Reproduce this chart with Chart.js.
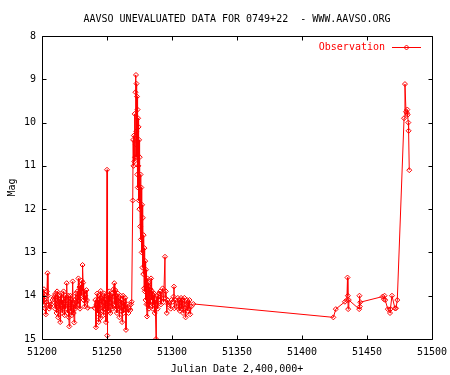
<!DOCTYPE html>
<html>
<head>
<meta charset="utf-8">
<script src="https://cdn.jsdelivr.net/npm/chart.js@4/dist/chart.umd.min.js"></script>
<style>
html,body{margin:0;padding:0;background:#fff;}
#c{display:block;}
</style>
</head>
<body>
<canvas id="c" width="450" height="375"></canvas>
<script>
const titleText = "AAVSO UNEVALUATED DATA FOR 0749+22  - WWW.AAVSO.ORG";
const xTitle = "Julian Date 2,400,000+";
const yTitle = "Mag";
const seriesName = "Observation";
const xTicks = [51200, 51250, 51300, 51350, 51400, 51450, 51500];
const yTicks = [8, 9, 10, 11, 12, 13, 14, 15];

const jd = [
51200.3,51200.8,51201.2,51201.5,51202.0,51202.5,51203.0,51203.4,51203.8,51204.2,51204.6,51205.0,51205.5,51206.2,51207.0,51208.0,51209.0,51209.5,51210.0,51210.4,
51210.8,51211.2,51211.6,51212.0,51212.4,51212.8,51213.2,51213.6,51214.0,51214.3,51214.7,51215.0,51215.4,51215.8,51216.2,51216.6,51217.0,51217.4,51217.8,51218.2,
51218.6,51219.0,51219.4,51219.8,51220.2,51220.6,51221.0,51221.4,51221.8,51222.2,51222.6,51223.0,51223.6,51224.0,51224.4,51224.8,51225.2,51225.6,51226.0,51226.4,
51226.8,51227.2,51227.6,51228.0,51228.4,51228.8,51229.2,51229.6,51230.0,51230.4,51230.8,51231.2,51231.6,51232.0,51232.4,51232.8,51233.2,51233.6,51234.2,51234.6,
51235.2,51240.3,51241.0,51241.5,51242.0,51242.4,51242.8,51243.2,51243.6,51244.0,51244.4,51244.8,51245.2,51245.6,51246.0,51246.4,51246.8,51247.2,51247.6,51248.0,
51248.4,51248.8,51249.2,51249.6,51250.0,51250.2,51250.6,51251.0,51251.4,51251.8,51252.2,51252.6,51253.0,51253.4,51253.8,51254.2,51254.6,51255.0,51255.6,51256.0,
51256.4,51256.8,51257.2,51257.6,51258.0,51258.4,51258.8,51259.2,51259.6,51260.0,51260.4,51260.8,51261.2,51261.6,51262.0,51262.4,51262.8,51263.2,51263.6,51264.0,
51264.6,51265.2,51265.8,51266.5,51267.2,51268.0,51268.5,51269.0,
51269.8,51270.1,51270.4,51270.7,51271.0,51271.3,51271.6,51271.9,51272.1,51272.3,
51272.5,51272.7,51272.9,51273.1,51273.3,51273.5,51273.7,51273.9,51274.1,51274.3,
51274.5,51274.7,51274.9,51275.2,51275.5,51275.8,51276.1,51276.4,51276.7,51277.0,
51277.3,51277.6,51277.9,51278.2,51278.5,51278.8,51279.1,51279.4,51279.7,51280.0,
51280.4,51280.8,51281.1,51281.5,51281.9,51282.3,51282.7,51283.1,51283.5,51283.9,
51284.3,51284.7,51285.1,51285.5,51285.9,51286.3,51286.7,51287.1,51287.7,51288.0,
51288.5,51289.0,51289.5,51290.0,51290.8,51291.5,51292.0,
51292.8,51293.5,51294.6,51294.8,51295.3,
51296.0,51296.6,51297.3,51298.0,51299.0,51299.5,51300.5,51301.2,51301.5,51301.8,51302.5,51303.5,51304.5,51305.0,51305.5,51306.0,51306.5,51307.0,51307.5,51308.0,
51308.5,51309.0,51309.5,51310.0,51310.5,51311.0,51311.5,51312.0,51312.5,51313.0,51313.5,51314.0,51314.8,51316.4,
51424.1,51426.0,51433.0,51434.5,51435.0,51435.3,51435.5,51436.0,51444.0,51444.2,51444.5,51444.8,51462.0,51463.0,51463.5,51464.0,51466.0,51467.7,51468.0,51469.2,
51471.5,51472.3,51473.3,51478.5,51479.2,51480.0,51480.8,51481.0,51481.3,51481.8,51482.0,51482.5
];
const mag = [
14.05,13.95,14.20,13.85,14.10,14.30,14.43,14.15,13.90,13.48,14.00,14.20,14.30,14.25,14.20,14.10,14.05,14.00,14.30,13.95,
14.20,14.40,13.90,14.10,14.50,14.00,14.30,14.10,14.61,14.00,14.20,13.95,14.40,14.10,14.30,13.90,14.20,14.45,14.00,14.30,
14.10,13.71,14.20,14.40,14.00,14.50,14.71,14.20,14.00,14.35,14.10,14.45,13.67,14.20,14.40,14.62,14.10,14.30,13.95,14.25,
14.05,13.90,14.20,13.60,14.10,13.80,14.30,13.75,14.00,13.65,13.90,13.29,13.70,14.10,13.90,14.25,14.00,14.15,13.87,14.10,
14.28,14.28,14.10,14.73,14.20,13.95,14.40,14.10,14.61,14.00,14.30,14.52,13.89,14.20,14.05,14.35,14.00,14.45,14.15,13.95,
14.30,14.10,14.61,14.00,11.09,14.92,14.20,14.00,14.35,13.90,14.15,14.40,14.00,14.25,13.95,14.30,14.10,13.85,13.71,14.20,
13.87,14.30,14.00,14.40,14.10,13.95,14.30,14.05,14.50,14.20,14.00,14.35,14.10,14.61,14.25,14.00,14.40,14.15,14.30,14.05,
14.79,14.30,14.20,14.40,14.30,14.33,14.20,14.14,
11.80,10.40,11.00,10.30,10.90,9.80,10.80,9.30,10.50,8.90,
10.20,9.10,10.80,9.40,11.20,9.70,11.50,9.90,11.00,10.10,
11.80,10.40,12.00,10.80,12.40,11.20,12.70,11.50,13.00,11.90,
13.35,12.20,13.50,12.60,13.83,12.90,13.90,13.20,14.10,13.40,
14.20,14.48,13.60,14.20,13.70,14.30,13.80,14.20,13.85,13.60,
14.10,13.90,14.30,14.00,14.20,13.95,14.40,14.10,15.00,14.20,
14.00,14.30,14.10,13.95,13.90,14.20,14.05,
13.83,14.15,13.10,14.05,13.90,
14.40,14.10,14.20,14.17,14.30,14.10,14.14,14.02,13.79,14.29,14.10,14.25,14.05,14.30,14.10,14.35,14.15,14.05,14.30,14.10,
14.40,14.20,14.05,14.30,14.50,14.20,14.10,14.35,14.15,14.30,14.10,14.43,14.25,14.19,
14.50,14.31,14.14,14.10,13.58,14.00,14.31,14.10,14.31,14.00,14.25,14.15,14.02,14.08,14.00,14.10,14.31,14.40,14.31,14.00,
14.29,14.29,14.10,9.90,9.11,9.75,9.78,9.70,9.82,10.00,10.19,11.10
];

const FONT = "'DejaVu Sans Mono', 'Liberation Mono', monospace";

const framePlugin = {
  id: 'frame',
  afterDraw(chart) {
    const ctx = chart.ctx;
    const a = chart.chartArea;
    const xs = chart.scales.x, ys = chart.scales.y;
    const L = Math.round(a.left) + 0.5, R = Math.round(a.right) + 0.5;
    const T = Math.round(a.top) + 0.5, B = Math.round(a.bottom) + 0.5;
    const tl = 4;
    ctx.save();
    ctx.strokeStyle = '#000';
    ctx.lineWidth = 1;
    ctx.beginPath();
    ctx.rect(L, T, R - L, B - T);
    xTicks.forEach(v => {
      const p = Math.round(xs.getPixelForValue(v)) + 0.5;
      ctx.moveTo(p, B); ctx.lineTo(p, B - tl);
      ctx.moveTo(p, T); ctx.lineTo(p, T + tl);
    });
    yTicks.forEach(v => {
      const p = Math.round(ys.getPixelForValue(v)) + 0.5;
      ctx.moveTo(L, p); ctx.lineTo(L + tl, p);
      ctx.moveTo(R, p); ctx.lineTo(R - tl, p);
    });
    ctx.stroke();
    ctx.fillStyle = '#000';
    ctx.font = '10px ' + FONT;
    ctx.textAlign = 'center';
    ctx.textBaseline = 'middle';
    ctx.fillText(titleText, (a.left + a.right) / 2, 19);
    ctx.fillStyle = '#ff0000';
    ctx.textAlign = 'right';
    ctx.fillText(seriesName, 385, 47);
    ctx.strokeStyle = '#ff0000';
    ctx.beginPath();
    ctx.moveTo(392, 47.5); ctx.lineTo(421, 47.5);
    ctx.stroke();
    ctx.beginPath();
    ctx.moveTo(406.5, 45); ctx.lineTo(409, 47.5); ctx.lineTo(406.5, 50); ctx.lineTo(404, 47.5); ctx.closePath();
    ctx.stroke();
    ctx.restore();
  }
};

new Chart(document.getElementById('c'), {
  type: 'line',
  data: {
    datasets: [{
      label: seriesName,
      data: jd.map((x, i) => ({x: x, y: mag[i]})),
      borderColor: '#ff0000',
      borderWidth: 1,
      backgroundColor: 'rgba(0,0,0,0)',
      pointStyle: 'rectRot',
      pointRadius: 2.5,
      pointBorderColor: '#ff0000',
      pointBackgroundColor: 'rgba(0,0,0,0)',
      pointBorderWidth: 1,
      tension: 0,
      fill: false
    }]
  },
  options: {
    responsive: false,
    devicePixelRatio: 1,
    animation: false,
    events: [],
    layout: { padding: { top: 36, right: 18, left: 0, bottom: 0 } },
    plugins: { legend: { display: false }, title: { display: false }, tooltip: { enabled: false } },
    scales: {
      x: {
        type: 'linear', min: 51200, max: 51500,
        afterBuildTicks: s => { s.ticks = xTicks.map(v => ({value: v})); },
        afterFit: s => { s.height = 36; s.paddingLeft = 0; s.paddingRight = 0; },
        grid: { display: false, drawTicks: false },
        border: { display: false },
        ticks: { color: '#000', font: { family: FONT, size: 10 }, padding: 7, maxRotation: 0, autoSkip: false, callback: v => String(v) },
        title: { display: true, text: xTitle, color: '#000', font: { family: FONT, size: 10 }, padding: { top: 0, bottom: 0 } }
      },
      y: {
        type: 'linear', min: 8, max: 15, reverse: true,
        afterBuildTicks: s => { s.ticks = yTicks.map(v => ({value: v})); },
        afterFit: s => { s.width = 42; s.paddingTop = 0; s.paddingBottom = 0; },
        grid: { display: false, drawTicks: false },
        border: { display: false },
        ticks: { color: '#000', font: { family: FONT, size: 10 }, padding: 6, autoSkip: false, callback: v => String(v) },
        title: { display: true, text: yTitle, color: '#000', font: { family: FONT, size: 10 }, padding: { top: 6, bottom: 0 } }
      }
    }
  },
  plugins: [framePlugin]
});
</script>
</body>
</html>
